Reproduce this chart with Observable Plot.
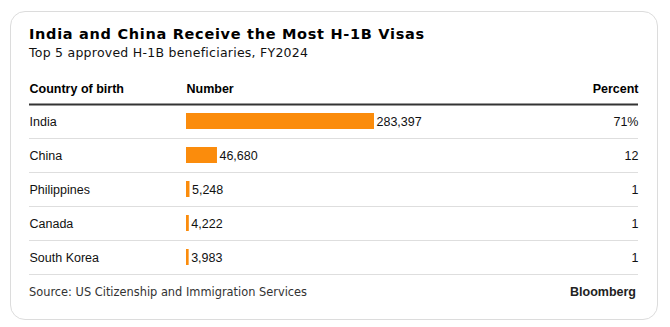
<!DOCTYPE html>
<html>
<head>
<meta charset="utf-8">
<script src="https://cdn.jsdelivr.net/npm/d3@7"></script>
<script src="https://cdn.jsdelivr.net/npm/@observablehq/plot@0.6"></script>
<style>
  html, body { margin: 0; padding: 0; background: #fff; }
  body { width: 670px; height: 327px; position: relative; overflow: hidden; }
  .card { position: absolute; left: 10px; top: 11px; width: 648px; height: 309px;
          border: 1px solid #dcdcdc; border-radius: 15px; box-sizing: border-box; }
  .title { position: absolute; left: 29px; top: 26px; font-family: "DejaVu Sans", Verdana, sans-serif;
           font-weight: bold; font-size: 14.5px; letter-spacing: 0.7px; color: #000; white-space: nowrap; }
  .subtitle { position: absolute; left: 29px; top: 45px; font-family: "DejaVu Sans", Verdana, sans-serif;
              font-size: 12.5px; letter-spacing: 0.25px; color: #111; white-space: nowrap; }
  .source { position: absolute; left: 29px; top: 285px; font-family: "DejaVu Sans", Verdana, sans-serif;
            font-size: 11.4px; color: #333; white-space: nowrap; }
  .brand { position: absolute; right: 34px; top: 285px; font-family: "Liberation Sans", Arial, sans-serif;
           font-weight: bold; font-size: 12.5px; color: #222; white-space: nowrap; }
  #chart { position: absolute; left: 0; top: 68px; }
</style>
</head>
<body>
<div class="card"></div>
<div class="title">India and China Receive the Most H-1B Visas</div>
<div class="subtitle">Top 5 approved H-1B beneficiaries, FY2024</div>
<div id="chart"></div>
<div class="source">Source: US Citizenship and Immigration Services</div>
<div class="brand">Bloomberg</div>
<script>
const countries = ["India", "China", "Philippines", "Canada", "South Korea"];
const numbers = [283397, 46680, 5248, 4222, 3983];
const percents = ["71%", "12", "1", "1", "1"];
const headers = ["Country of birth", "Number", "Percent"];

const rows = countries.map((c, i) => ({country: c, number: numbers[i], percent: percents[i]}));
const fmt = d3.format(",");
const font = "Liberation Sans, Arial, sans-serif";

const plot = Plot.plot({
  width: 670,
  height: 212,
  marginLeft: 29,
  marginRight: 32,
  marginTop: 0,
  marginBottom: 0,
  style: {fontFamily: font, fontSize: "12.5px", color: "#111", background: "transparent"},
  x: {domain: [0, 283397], range: [186, 374], axis: null},
  y: {domain: countries, range: [36, 206], padding: 0, axis: null},
  marks: [
    Plot.ruleY(rows, {y: "country", dy: 17, stroke: "#dedede", strokeWidth: 1.2}),
    Plot.ruleY(rows.slice(0, 1), {y: "country", dy: -17, stroke: "#333", strokeWidth: 2}),
    Plot.barX(rows, {x: "number", y: "country", fill: "#fb8c0c", insetTop: 9, insetBottom: 9}),
    Plot.text(rows, {y: "country", text: "country", frameAnchor: "left", textAnchor: "start", fill: "#111"}),
    Plot.text(rows, {x: "number", y: "country", text: d => fmt(d.number), textAnchor: "start", dx: 2, fill: "#111"}),
    Plot.text(rows, {y: "country", text: "percent", frameAnchor: "right", textAnchor: "end", fill: "#111"}),
    Plot.text(headers.slice(0, 1), {text: d => d, frameAnchor: "top-left", textAnchor: "start", dy: 16, fontWeight: "bold", fontSize: 12.5, fill: "#000"}),
    Plot.text(headers.slice(1, 2), {x: () => 0, text: d => d, frameAnchor: "top", textAnchor: "start", dy: 16, fontWeight: "bold", fontSize: 12.5, fill: "#000"}),
    Plot.text(headers.slice(2, 3), {text: d => d, frameAnchor: "top-right", textAnchor: "end", dy: 16, fontWeight: "bold", fontSize: 12.5, fill: "#000"})
  ]
});
document.getElementById("chart").appendChild(plot);
</script>
</body>
</html>
